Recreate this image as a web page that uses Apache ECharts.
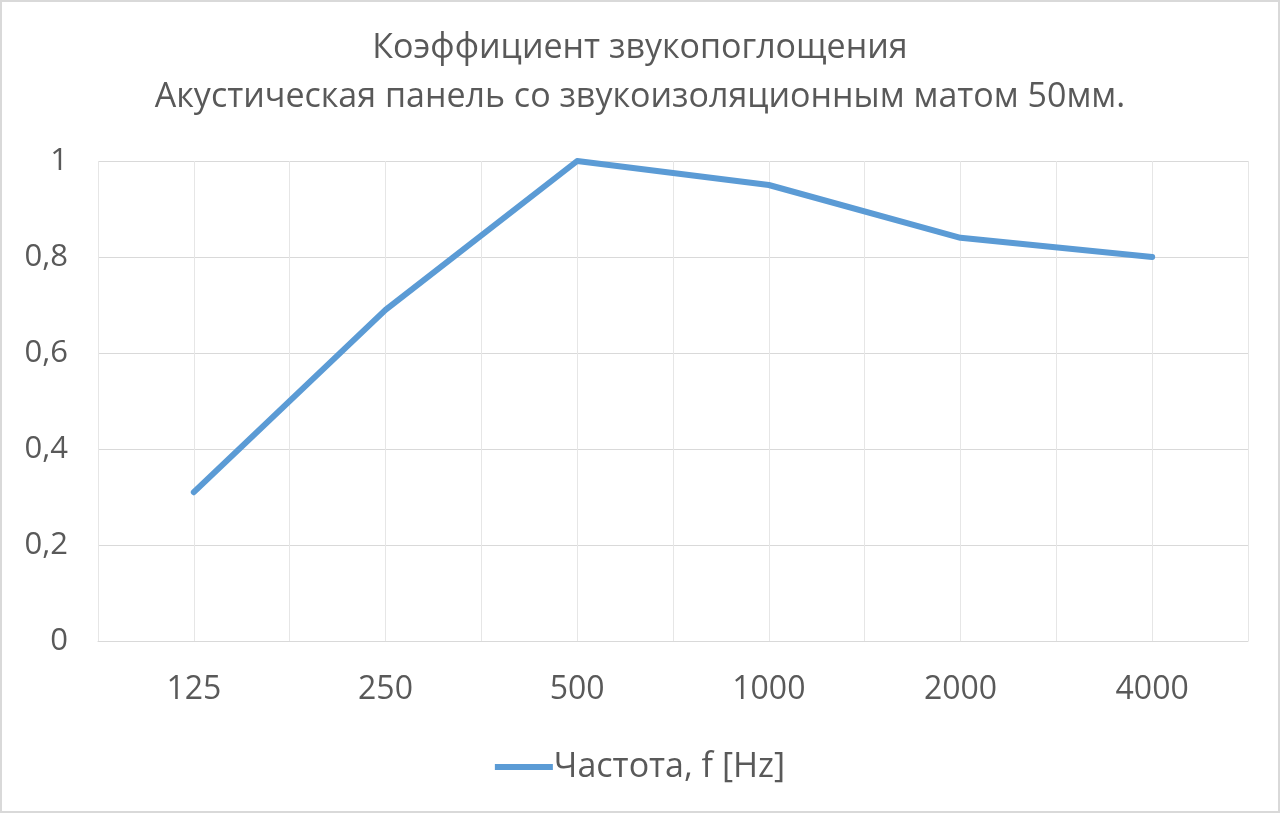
<!DOCTYPE html>
<html>
<head>
<meta charset="utf-8">
<script src="https://cdn.jsdelivr.net/npm/echarts@6/dist/echarts.min.js"></script>
<style>
html,body{margin:0;padding:0;background:#fff;}
#c{width:1280px;height:813px;box-sizing:border-box;border:2px solid #d9d9d9;}
</style>
</head>
<body>
<div id="c"></div>
<script>
var categories = ['125', '250', '500', '1000', '2000', '4000'];
var values = [0.31, 0.69, 1.0, 0.95, 0.84, 0.80];
var seriesName = 'Частота, f [Hz]';
var titleLines = ['Коэффициент звукопоглощения', 'Акустическая панель со звукоизоляционным матом 50мм.'];

var chart = echarts.init(document.getElementById('c'), null, {renderer: 'canvas'});
var font = '"Open Sans", sans-serif';
chart.setOption({
  animation: false,
  backgroundColor: '#fff',
  title: {
    text: titleLines.join('\n'),
    left: 'center',
    top: 17,
    textStyle: {fontFamily: font, fontSize: 34, fontWeight: 'normal', color: '#595959', lineHeight: 49}
  },
  grid: {left: 96, right: 30, top: 159, bottom: 170, containLabel: false},
  legend: {
    bottom: 22,
    left: 'center',
    itemWidth: 58,
    itemHeight: 6,
    itemGap: 0,
    data: [{name: seriesName, icon: 'path://M0,0 L58,0 L58,6 L0,6 Z'}],
    textStyle: {fontFamily: font, fontSize: 34, color: '#595959', padding: [0,0,0,-4]}
  },
  xAxis: [{
    type: 'category',
    data: categories,
    boundaryGap: true,
    axisLine: {show: true, lineStyle: {color: '#d9d9d9', width: 1}},
    axisTick: {show: false},
    splitLine: {show: true, lineStyle: {color: '#e6e6e6', width: 1}},
    axisLabel: {fontFamily: font, fontSize: 32, color: '#595959', margin: 33}
  }, {
    type: 'value',
    min: 0, max: 12, interval: 1,
    position: 'bottom',
    axisLine: {show: false}, axisTick: {show: false}, axisLabel: {show: false},
    splitLine: {show: true, lineStyle: {color: '#e6e6e6', width: 1}}
  }],
  yAxis: {
    type: 'value',
    min: 0, max: 1, interval: 0.2,
    axisLine: {show: false},
    axisTick: {show: false},
    splitLine: {show: true, lineStyle: {color: '#d9d9d9', width: 1}},
    axisLabel: {
      fontFamily: font, fontSize: 31, color: '#595959', margin: 30,
      formatter: function (v) { return (Math.round(v * 10) / 10).toString().replace('.', ','); }
    }
  },
  series: [{
    name: seriesName,
    type: 'line',
    xAxisIndex: 0,
    data: values,
    showSymbol: false,
    symbol: 'none',
    lineStyle: {color: '#5B9BD5', width: 6, cap: 'round', join: 'round'},
    itemStyle: {color: '#5B9BD5'}
  }]
});
</script>
</body>
</html>
